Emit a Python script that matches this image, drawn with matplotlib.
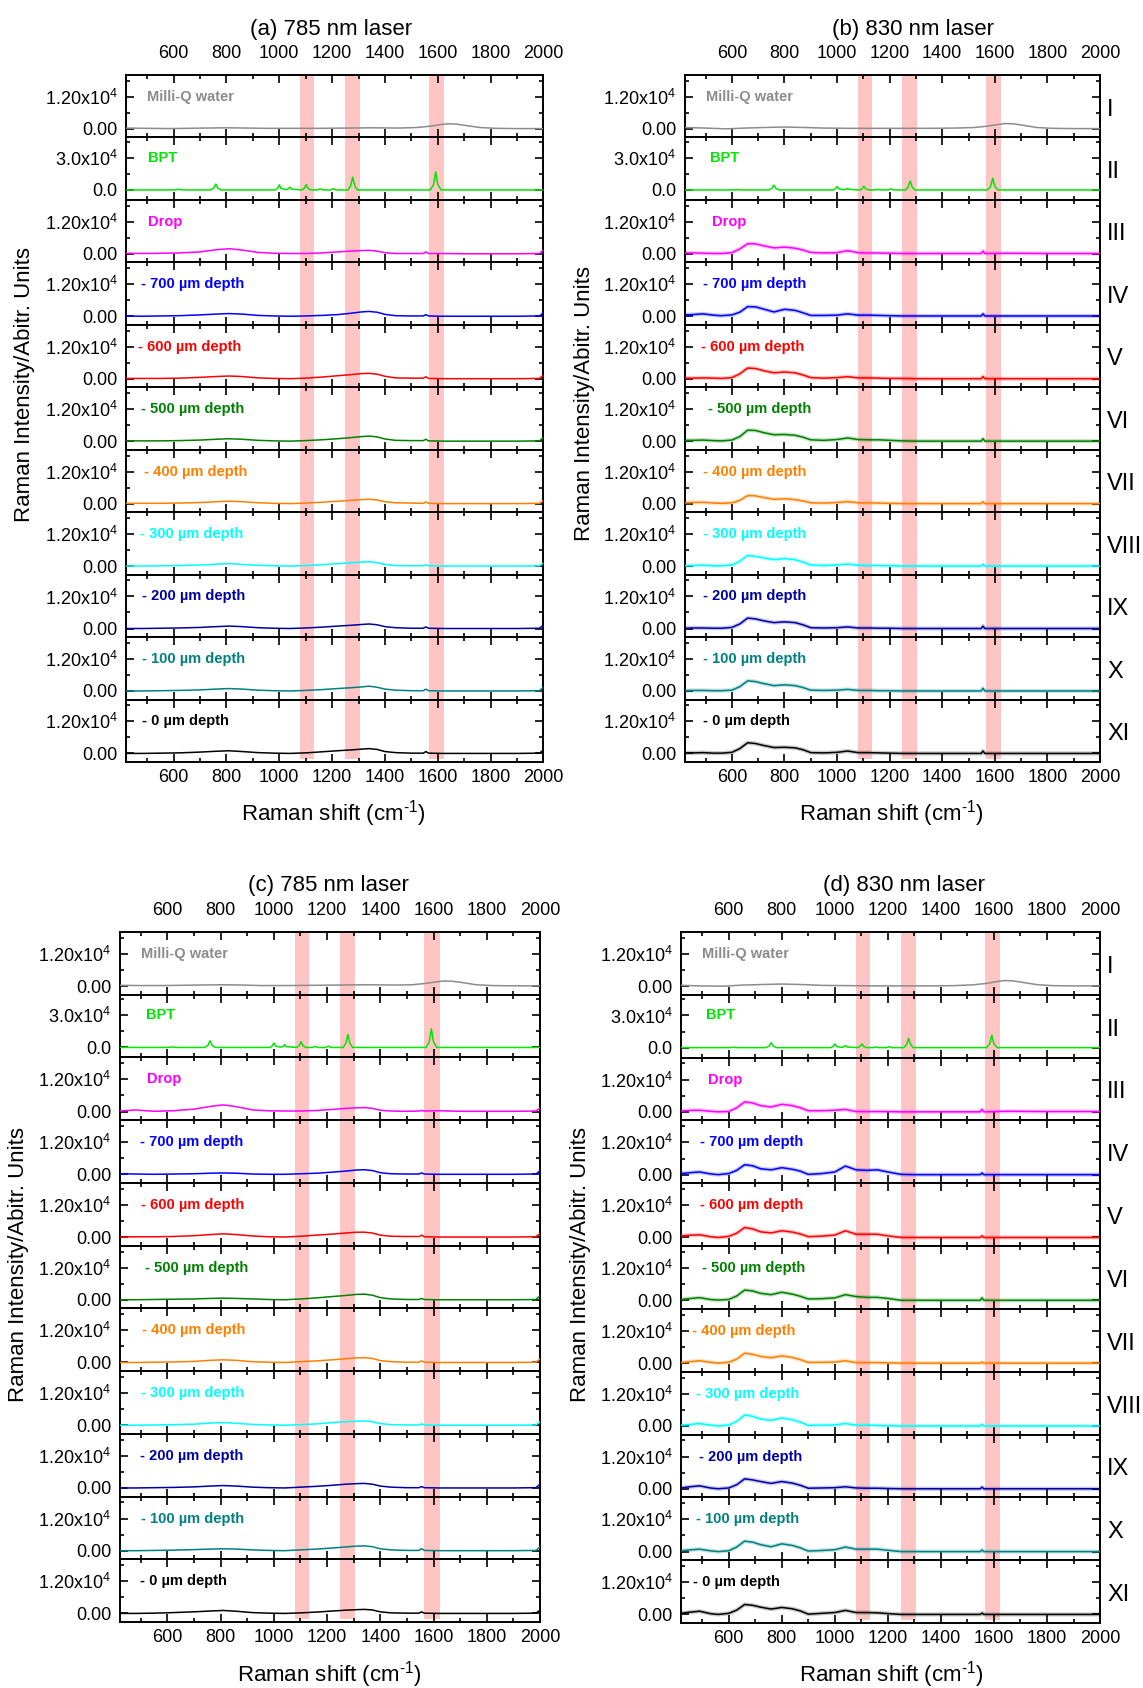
import matplotlib
matplotlib.use("Agg")
import matplotlib.pyplot as plt
from matplotlib.ticker import FixedLocator, FixedFormatter, MultipleLocator

plt.rcParams['font.family'] = ['Liberation Sans', 'DejaVu Sans']
plt.rcParams['mathtext.fontset'] = 'custom'
plt.rcParams['mathtext.rm'] = 'Liberation Sans'
plt.rcParams['mathtext.it'] = 'Liberation Sans:italic'
plt.rcParams['mathtext.bf'] = 'Liberation Sans:bold'

# ---------------------------------------------------------------- data
sample_names = ['Milli-Q water', 'BPT', 'Drop', '- 700 µm depth', '- 600 µm depth',
                '- 500 µm depth', '- 400 µm depth', '- 300 µm depth', '- 200 µm depth',
                '- 100 µm depth', '- 0 µm depth']
numerals = ['I', 'II', 'III', 'IV', 'V', 'VI', 'VII', 'VIII', 'IX', 'X', 'XI']
bands = [(1078, 1132), (1248, 1305), (1566, 1624)]

# Milli-Q water
water_shift = [420, 500, 580, 650, 720, 800, 880, 950, 1050, 1150, 1250, 1350, 1450, 1520,
               1570, 1610, 1640, 1670, 1710, 1760, 1820, 1900, 2000]
water_a = [300, 200, 100, 200, 300, 400, 300, 200, 200, 200, 300, 400, 300, 500,
           1000, 1600, 1900, 1800, 1200, 500, 200, 100, 100]
water_b = [500, 300, 0, 300, 500, 700, 500, 300, 200, 200, 200, 200, 300, 500,
           1000, 1600, 2000, 1900, 1300, 500, 200, 100, 100]
water_c = [300, 200, 200, 300, 400, 500, 400, 200, 200, 300, 400, 500, 400, 500,
           1000, 1600, 1900, 1800, 1300, 500, 200, 100, 100]
water_d = [300, 100, 0, 400, 600, 800, 600, 300, 200, 100, 100, 100, 200, 500,
           1000, 1700, 2100, 2000, 1400, 600, 200, 100, 100]

# BPT reference
bpt_shift = [420, 605, 620, 635, 740, 752, 760, 768, 780, 985, 993, 1000, 1007,
             1025, 1033, 1040, 1047, 1085, 1095, 1102, 1109, 1120, 1145, 1155, 1165,
             1195, 1205, 1215, 1260, 1270, 1278, 1286, 1296, 1572, 1584, 1592, 1600, 1612, 2000]
bpt_a = [0, 0, 600, 0, 0, 1700, 5500, 1700, 0, 0, 1400, 4800, 1400,
         300, 800, 2600, 800, 0, 1500, 5000, 1500, 0, 0, 1000, 0,
         0, 1200, 0, 0, 3600, 12000, 3600, 0, 0, 5100, 17000, 5100, 0, 0]
bpt_b = [0, 0, 300, 0, 0, 1350, 4500, 1350, 0, 0, 1000, 3200, 1000,
         200, 500, 1600, 500, 0, 1050, 3500, 1050, 0, 0, 500, 0,
         0, 1000, 0, 0, 2500, 8400, 2500, 0, 0, 3300, 11000, 3300, 0, 0]
bpt_c = [0, 0, 500, 0, 0, 1900, 6300, 1900, 0, 0, 1200, 4100, 1200,
         300, 750, 2500, 750, 0, 1600, 5400, 1600, 0, 0, 900, 0,
         0, 1200, 0, 0, 3600, 12000, 3600, 0, 0, 5200, 17400, 5200, 0, 0]
bpt_d = [0, 0, 400, 0, 0, 1350, 4500, 1350, 0, 0, 1050, 3500, 1050,
         200, 600, 1900, 600, 0, 1050, 3500, 1050, 0, 0, 600, 0,
         0, 900, 0, 0, 2600, 8700, 2600, 0, 0, 3500, 11600, 3500, 0, 0]

# 785 nm: drop and depth profiles
shift_785 = [420, 480, 550, 620, 700, 760, 810, 860, 920, 980, 1040, 1100, 1160, 1220, 1270,
             1310, 1340, 1370, 1400, 1440, 1500, 1545, 1555, 1565, 1620, 1700, 1800, 1900, 1985, 2000]
a_drop = [200, 100, 200, 300, 700, 1500, 1900, 1400, 500, 200, 100, 100, 300, 700, 1000,
          1200, 1300, 1000, 400, 100, 100, 100, 700, 100, 100, 0, 0, 0, 100, 1500]
a_d700 = [100, 0, 100, 200, 500, 800, 1000, 800, 300, 100, 0, 100, 300, 600, 1100,
          1600, 1800, 1500, 700, 200, 100, 100, 600, 100, 0, 0, 0, 0, 100, 1300]
a_d600 = [100, 100, 100, 200, 500, 800, 1000, 800, 300, 100, 0, 200, 600, 1100, 1500,
          1900, 2000, 1700, 900, 300, 200, 200, 700, 100, 0, 0, 0, 0, 100, 1400]
a_d500 = [100, 100, 100, 200, 400, 700, 900, 700, 300, 100, 0, 200, 500, 900, 1300,
          1700, 1900, 1600, 800, 300, 200, 200, 700, 100, 0, 0, 0, 0, 100, 1400]
a_d400 = [100, 100, 100, 200, 400, 700, 900, 700, 300, 100, 0, 200, 500, 900, 1200,
          1500, 1600, 1400, 700, 300, 200, 100, 600, 100, 0, 0, 0, 0, 100, 1200]
a_d300 = [0, 0, 100, 200, 400, 700, 900, 600, 300, 100, 0, 200, 500, 900, 1200,
          1500, 1600, 1300, 600, 200, 100, 100, 500, 100, 0, 0, 0, 0, 100, 1200]
a_d200 = [0, 0, 100, 200, 400, 700, 900, 700, 300, 100, 0, 200, 500, 900, 1200,
          1500, 1700, 1400, 700, 300, 100, 100, 600, 100, 0, 0, 0, 0, 100, 1300]
a_d100 = [0, 0, 100, 200, 400, 700, 900, 700, 300, 100, 0, 200, 500, 900, 1200,
          1500, 1800, 1400, 700, 300, 100, 100, 700, 100, 0, 0, 0, 0, 100, 1500]
a_d0 = [0, 0, 100, 200, 500, 800, 1000, 700, 300, 100, 0, 200, 600, 1000, 1300,
        1600, 1800, 1500, 700, 300, 100, 100, 700, 100, 0, 0, 0, 0, 100, 1300]

c_drop = [200, 600, 100, 300, 900, 1900, 2500, 1800, 600, 300, 200, 200, 400, 800, 1200,
          1400, 1500, 1200, 500, 200, 100, 200, 400, 200, 300, 100, 100, 100, 200, 1300]
c_d700 = [200, 100, 0, 100, 200, 400, 500, 400, 100, 0, 0, 200, 400, 800, 1200,
          1600, 1700, 1400, 600, 200, 100, 100, 500, 100, 0, 0, 0, 0, 100, 1300]
c_d600 = [0, 100, 100, 200, 500, 900, 1200, 900, 400, 100, 0, 300, 700, 1100, 1500,
          1800, 1800, 1500, 700, 300, 200, 200, 700, 100, 0, 0, 0, 0, 100, 1300]
c_d500 = [0, 0, 100, 200, 300, 500, 600, 500, 300, 100, 0, 300, 700, 1200, 1600,
          2000, 2100, 1700, 800, 300, 100, 100, 500, 100, 0, 0, 0, 0, 100, 1500]
c_d400 = [0, 0, 100, 200, 400, 800, 1000, 800, 300, 100, 0, 300, 600, 1000, 1400,
          1700, 1800, 1500, 700, 300, 100, 100, 600, 100, 0, 0, 0, 0, 100, 1300]
c_d300 = [0, 0, 100, 200, 400, 800, 1000, 700, 300, 100, 0, 200, 500, 1000, 1300,
          1500, 1600, 1300, 600, 200, 100, 100, 500, 100, 0, 0, 0, 0, 100, 1300]
c_d200 = [0, 0, 100, 200, 400, 700, 900, 700, 300, 100, 0, 300, 600, 1000, 1400,
          1600, 1700, 1400, 700, 300, 100, 100, 500, 100, 0, 0, 0, 0, 100, 1400]
c_d100 = [0, 0, 100, 200, 400, 600, 700, 600, 300, 100, 0, 300, 600, 1000, 1400,
          1700, 1800, 1500, 700, 300, 100, 100, 800, 100, 0, 0, 0, 0, 100, 1400]
c_d0 = [0, 0, 100, 300, 600, 900, 1100, 800, 300, 100, 0, 200, 500, 900, 1200,
        1400, 1500, 1300, 600, 200, 100, 100, 600, 100, 0, 0, 0, 0, 100, 1200]

# 830 nm: drop and depth profiles
shift_830 = [420, 450, 490, 530, 560, 600, 630, 660, 690, 720, 760, 800, 840, 870, 900, 950,
             1000, 1040, 1080, 1120, 1160, 1200, 1250, 1300, 1400, 1500, 1548, 1555, 1562,
             1650, 1800, 2000]
b_drop = [300, 300, 200, 100, 100, 400, 1800, 3800, 3700, 3000, 2200, 2500, 2100, 1400, 500, 300,
          400, 1200, 400, 300, 300, 200, 100, 100, 100, 100, 100, 1000, 100, 200, 100, 100]
b_d700 = [500, 600, 900, 400, 200, 500, 1500, 3600, 3500, 2700, 1600, 2600, 2200, 1300, 300, 300,
          400, 900, 400, 400, 300, 200, 100, 100, 100, 100, 100, 900, 100, 100, 100, 100]
b_d600 = [200, 200, 300, 200, 100, 400, 1800, 4000, 3800, 3000, 2200, 2500, 2200, 1400, 400, 200,
          400, 750, 300, 300, 200, 100, 100, 0, 0, 0, 0, 800, 0, 0, 0, 0]
b_d500 = [300, 300, 400, 200, 100, 400, 1700, 4100, 4000, 3200, 2400, 2500, 2200, 1500, 500, 300,
          600, 1200, 600, 500, 500, 300, 100, 0, 0, 0, 0, 900, 0, 0, 0, 0]
b_d400 = [300, 400, 500, 200, 100, 300, 1200, 3000, 2900, 2300, 1600, 1800, 1500, 1000, 300, 200,
          400, 750, 300, 300, 200, 100, 0, 0, 0, 0, 0, 700, 0, 0, 0, 0]
b_d300 = [100, 200, 300, 100, 100, 400, 1800, 4000, 3600, 3100, 2400, 2800, 2400, 1500, 400, 200,
          400, 750, 300, 200, 200, 100, 0, 0, 0, 0, 0, 700, 0, 0, 0, 0]
b_d200 = [100, 200, 200, 100, 100, 400, 1700, 3900, 3600, 2900, 2200, 2500, 2200, 1400, 300, 200,
          300, 600, 200, 200, 100, 100, 0, 0, 0, 0, 0, 900, 0, 0, 0, 0]
b_d100 = [100, 200, 200, 100, 100, 300, 1600, 3800, 3500, 2800, 2000, 2300, 2000, 1300, 300, 200,
          300, 600, 200, 200, 100, 100, 0, 0, 0, 0, 0, 1000, 0, 0, 0, 0]
b_d0 = [200, 200, 300, 100, 100, 400, 1800, 4000, 3700, 3000, 2200, 2300, 2100, 1400, 300, 200,
        400, 900, 300, 300, 200, 100, 0, 0, 0, 0, 0, 900, 0, 0, 0, 0]

d_drop = [300, 500, 600, 200, 0, 100, 1500, 3700, 3300, 2300, 1800, 2800, 2300, 1500, 400, 400,
          600, 900, 100, 100, 100, 100, 0, 0, 0, 0, 0, 900, 0, 200, 100, 100]
d_d700 = [400, 700, 1000, 300, 0, 400, 1600, 3700, 3300, 2200, 1800, 2600, 2000, 1300, 100, 400,
          1000, 3200, 1800, 1600, 1800, 1000, 100, 0, 0, 0, 0, 600, 0, 0, 0, 0]
d_d600 = [600, 800, 1000, 300, 0, 400, 1600, 3700, 3200, 2100, 1700, 2500, 2000, 1300, 300, 500,
          900, 2500, 1200, 1200, 1200, 600, 0, 0, 0, 0, 0, 600, 0, 0, 0, 0]
d_d500 = [300, 600, 1000, 300, 100, 300, 1600, 3800, 3500, 2600, 2100, 3000, 2300, 1500, 500, 600,
          900, 2100, 1400, 1100, 1100, 700, 0, 0, 0, 0, 0, 900, 0, 0, 0, 0]
d_d400 = [200, 500, 900, 300, 0, 300, 1500, 3700, 3300, 2500, 2000, 2700, 2100, 1300, 250, 300,
          400, 900, 200, 200, 200, 100, 0, 0, 0, 0, 0, 400, 0, 0, 0, 0]
d_d300 = [300, 500, 900, 300, 0, 300, 1700, 4100, 3600, 2600, 2100, 3000, 2300, 1400, 200, 300,
          400, 900, 300, 300, 200, 100, 0, 0, 0, 0, 0, 600, 0, 0, 0, 0]
d_d200 = [300, 700, 1100, 300, 0, 300, 1500, 3700, 3300, 2700, 2000, 2700, 2100, 1300, 200, 300,
          400, 750, 300, 200, 200, 100, 0, 0, 0, 0, 0, 600, 0, 0, 0, 0]
d_d100 = [300, 600, 900, 300, 0, 300, 1700, 3900, 3500, 2600, 1800, 2900, 2300, 1400, 200, 400,
          700, 1700, 900, 900, 900, 500, 0, 0, 0, 0, 0, 600, 0, 0, 0, 0]
d_d0 = [400, 800, 1200, 300, 0, 400, 1600, 3700, 3400, 2700, 2000, 2600, 2100, 1300, 100, 400,
        700, 1500, 700, 700, 600, 300, 0, 0, 0, 0, 0, 500, 0, 0, 0, 0]

# ---------------------------------------------------------------- styling
line_colors = ['#8c8c8c', '#00e600', '#ff00ff', '#0000ff', '#ff0000', '#008000',
               '#ff8000', '#00ffff', '#0000a0', '#008080', '#000000']
band_color = '#ffc4c4'
XMIN, XMAX = 420, 2000


def panel_series(water, bpt, shift, depth):
    series = [(water_shift, water), (bpt_shift, bpt)]
    series += [(shift, y) for y in depth]
    return series


panels = [
    dict(key='a', title='(a) 785 nm laser', rect=(0.1102, 0.5486, 0.4755, 0.9556),
         series=panel_series(water_a, bpt_a, shift_785,
                             [a_drop, a_d700, a_d600, a_d500, a_d400, a_d300, a_d200, a_d100, a_d0]),
         label_x=[500, 502, 505, 477, 465, 477, 490, 473, 479, 480, 480],
         title_xy=(0.290, 0.9828), xlabel_xy=(0.292, 0.518), ylabel_xy=(0.021, 0.772),
         roman=False, halo=False),
    dict(key='b', title='(b) 830 nm laser', rect=(0.5989, 0.5486, 0.9624, 0.9556),
         series=panel_series(water_b, bpt_b, shift_830,
                             [b_drop, b_d700, b_d600, b_d500, b_d400, b_d300, b_d200, b_d100, b_d0]),
         label_x=[500, 518, 523, 492, 481, 508, 492, 492, 492, 492, 492],
         title_xy=(0.799, 0.9828), xlabel_xy=(0.780, 0.518), ylabel_xy=(0.511, 0.761),
         roman=True, halo=True),
    dict(key='c', title='(c) 785 nm laser', rect=(0.1046, 0.0391, 0.4724, 0.4479),
         series=panel_series(water_c, bpt_c, shift_785,
                             [c_drop, c_d700, c_d600, c_d500, c_d400, c_d300, c_d200, c_d100, c_d0]),
         label_x=[501, 518, 525, 498, 501, 517, 505, 501, 496, 501, 495],
         title_xy=(0.287, 0.4755), xlabel_xy=(0.288, 0.0077), ylabel_xy=(0.016, 0.251),
         roman=False, halo=False),
    dict(key='d', title='(d) 830 nm laser', rect=(0.5958, 0.0385, 0.9624, 0.4479),
         series=panel_series(water_d, bpt_d, shift_830,
                             [d_drop, d_d700, d_d600, d_d500, d_d400, d_d300, d_d200, d_d100, d_d0]),
         label_x=[500, 516, 522, 490, 490, 500, 463, 475, 486, 475, 465],
         title_xy=(0.791, 0.4755), xlabel_xy=(0.780, 0.0077), ylabel_xy=(0.508, 0.251),
         roman=True, halo=True),
]

fig = plt.figure(figsize=(11.43, 16.88), dpi=100)

for p in panels:
    left, bottom, right, top = p['rect']
    n = len(p['series'])
    h = (top - bottom) / n
    for i, (xs, ys) in enumerate(p['series']):
        ax = fig.add_axes([left, top - (i + 1) * h, right - left, h])
        is_bpt = (i == 1)
        if is_bpt:
            ax.set_ylim(-9300, 49300)
            majors, minors = [0, 30000], [15000, 45000]
            ticklabels = ['0.0', r'3.0x10$^{4}$']
        else:
            ax.set_ylim(-3200, 20200)
            majors, minors = [0, 12000], [6000, 18000]
            ticklabels = ['0.00', r'1.20x10$^{4}$']
        ax.set_xlim(XMIN, XMAX)

        last = (i == n - 1)
        for lo, hi in bands:
            ax.axvspan(lo, hi, ymin=0.05 if last else 0.0, ymax=1.0,
                       color=band_color, lw=0, zorder=0)

        col = line_colors[i]
        if p['halo'] and i >= 2:
            ax.plot(xs, ys, color=col, lw=3.0, alpha=0.22, zorder=2,
                    solid_joinstyle='round')
        ax.plot(xs, ys, color=col, lw=1.1, zorder=3)

        ax.text(p['label_x'][i], majors[1], sample_names[i], color=col,
                fontsize=10.5, fontweight='bold', ha='left', va='center', zorder=4)

        ax.yaxis.set_major_locator(FixedLocator(majors))
        ax.yaxis.set_major_formatter(FixedFormatter(ticklabels))
        ax.yaxis.set_minor_locator(FixedLocator(minors))
        ax.xaxis.set_major_locator(MultipleLocator(200))
        ax.xaxis.set_minor_locator(MultipleLocator(100))

        ax.tick_params(axis='both', which='both', direction='in', top=True, right=True,
                       width=1.2)
        ax.tick_params(axis='both', which='major', length=5.5)
        ax.tick_params(axis='both', which='minor', length=3)
        ax.tick_params(axis='y', which='major', labelsize=13, pad=6)
        ax.tick_params(axis='x', which='major', labelsize=13,
                       labeltop=(i == 0), labelbottom=last)
        if i == 0:
            ax.tick_params(axis='x', which='major', pad=9)
        if last:
            ax.tick_params(axis='x', which='major', pad=5)
        for s in ax.spines.values():
            s.set_linewidth(1.4)

        if p['roman']:
            yc = top - (i + 0.5) * h - 0.002
            fig.text(0.9685, yc, numerals[i], fontsize=17, ha='left', va='center')

    fig.text(*p['title_xy'], p['title'], fontsize=16, ha='center', va='center')
    fig.text(*p['xlabel_xy'], r'Raman shift (cm$^{\text{-1}}$)', fontsize=16,
             ha='center', va='center')
    fig.text(*p['ylabel_xy'], 'Raman Intensity/Abitr. Units', fontsize=16,
             ha='center', va='center', rotation=90)

fig.savefig('out.png', dpi=100)
